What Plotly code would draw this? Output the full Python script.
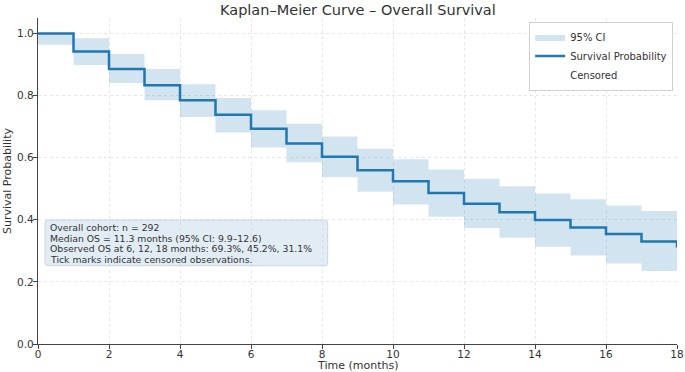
import plotly.graph_objects as go

# ---- data ----
times = [0, 1, 2, 3, 4, 5, 6, 7, 8, 9, 10, 11, 12, 13, 14, 15, 16, 17, 18]
survival = [1.000, 0.942, 0.886, 0.833, 0.785, 0.738, 0.693, 0.646, 0.603, 0.560,
            0.524, 0.486, 0.452, 0.424, 0.399, 0.375, 0.354, 0.330, 0.311]
ci_upper = [1.000, 0.985, 0.934, 0.886, 0.837, 0.792, 0.753, 0.709, 0.668, 0.629,
            0.595, 0.562, 0.532, 0.508, 0.485, 0.466, 0.446, 0.428, 0.428]
ci_lower = [0.964, 0.899, 0.841, 0.785, 0.731, 0.681, 0.633, 0.585, 0.537, 0.490,
            0.449, 0.410, 0.374, 0.342, 0.313, 0.285, 0.259, 0.235, 0.235]
censored_times = [None]
censored_surv = [None]

x_ticks = [0, 2, 4, 6, 8, 10, 12, 14, 16, 18]
y_ticks = [0.0, 0.2, 0.4, 0.6, 0.8, 1.0]

title_text = "Kaplan–Meier Curve – Overall Survival"
x_label = "Time (months)"
y_label = "Survival Probability"
info_lines = [
    "Overall cohort: n = 292",
    "Median OS = 11.3 months (95% CI: 9.9–12.6)",
    "Observed OS at 6, 12, 18 months: 69.3%, 45.2%, 31.1%",
    "Tick marks indicate censored observations.",
]

FONT = "DejaVu Sans, Verdana, sans-serif"
TXT = "#333333"
BLUE = "#1f77b4"

fig = go.Figure()

fig.add_trace(go.Scatter(
    x=times, y=ci_lower, mode="lines", line=dict(width=0, shape="hv"),
    showlegend=False, hoverinfo="skip"))
fig.add_trace(go.Scatter(
    x=times, y=ci_upper, mode="lines", line=dict(width=0, shape="hv"),
    fill="tonexty", fillcolor="rgba(31,119,180,0.2)", name="95% CI"))
fig.add_trace(go.Scatter(
    x=times, y=survival, mode="lines", line=dict(color=BLUE, width=2.5, shape="hv"),
    name="Survival Probability"))
fig.add_trace(go.Scatter(
    x=censored_times, y=censored_surv, mode="markers",
    marker=dict(symbol="line-ns-open", size=8, color="rgba(0,0,0,0)",
                line=dict(color="rgba(0,0,0,0)", width=0)),
    name="Censored", showlegend=True))

# info box (rounded rectangle in data units)
bx0, bx1, by0, by1 = 0.197, 8.16, 0.252, 0.399
rx, ry = 0.085, 0.0097
path = (f"M {bx0+rx},{by0} L {bx1-rx},{by0} Q {bx1},{by0} {bx1},{by0+ry} "
        f"L {bx1},{by1-ry} Q {bx1},{by1} {bx1-rx},{by1} "
        f"L {bx0+rx},{by1} Q {bx0},{by1} {bx0},{by1-ry} "
        f"L {bx0},{by0+ry} Q {bx0},{by0} {bx0+rx},{by0} Z")
fig.add_shape(type="path", path=path, xref="x", yref="y",
              fillcolor="rgba(190,212,230,0.45)", line=dict(color="#c9d6e1", width=1),
              layer="above")

line_y = [0.376, 0.341, 0.306, 0.271]
for txt, yy in zip(info_lines, line_y):
    fig.add_annotation(x=0.29, y=yy, xref="x", yref="y", text=txt, showarrow=False,
                       xanchor="left", yanchor="middle",
                       font=dict(family=FONT, size=9.3, color=TXT))

# title and axis titles
fig.add_annotation(x=0.5, y=1.0536, xref="paper", yref="paper", text=title_text,
                   showarrow=False, xanchor="center", yanchor="top", borderpad=0,
                   font=dict(family=FONT, size=14.5, color=TXT))
fig.add_annotation(x=0.5, y=-0.0645, xref="paper", yref="paper", text=x_label,
                   showarrow=False, xanchor="center", yanchor="middle",
                   font=dict(family=FONT, size=11, color=TXT))
fig.add_annotation(x=-0.0485, y=0.5, xref="paper", yref="paper", text=y_label,
                   showarrow=False, xanchor="center", yanchor="middle", textangle=-90,
                   font=dict(family=FONT, size=11, color=TXT))

fig.update_layout(
    width=685, height=372,
    margin=dict(l=38, r=8, t=17.5, b=28, autoexpand=False),
    paper_bgcolor="white", plot_bgcolor="white",
    font=dict(family=FONT, color=TXT, size=10.5),
    legend=dict(x=0.994, y=0.989, xanchor="right", yanchor="top",
                bgcolor="rgba(255,255,255,0.85)", bordercolor="#d0d0d0", borderwidth=1,
                font=dict(family=FONT, size=10, color=TXT), itemwidth=30,
                tracegroupgap=0, traceorder="normal"),
    showlegend=True,
)

fig.update_xaxes(
    range=[0, 18], tickvals=x_ticks, ticktext=[str(v) for v in x_ticks],
    showline=True, linecolor="#444", linewidth=1.2, mirror=False,
    ticks="outside", ticklen=4, tickcolor="#444", tickwidth=1,
    showgrid=True, gridcolor="#e6e6e6", griddash="dot", gridwidth=1,
    zeroline=False, automargin=False, ticklabelstandoff=-4,
    tickfont=dict(family=FONT, size=10.5, color=TXT),
)
fig.update_yaxes(
    range=[0, 1.05], tickvals=y_ticks, ticktext=[f"{v:.1f}" for v in y_ticks],
    showline=True, linecolor="#444", linewidth=1.2, mirror=False,
    ticks="outside", ticklen=4, tickcolor="#444", tickwidth=1,
    showgrid=True, gridcolor="#e6e6e6", griddash="dot", gridwidth=1,
    zeroline=False, automargin=False, ticklabelstandoff=-3,
    tickfont=dict(family=FONT, size=10.5, color=TXT),
)

fig.write_html("out.html", config={"displayModeBar": False},
               post_script="document.body.style.margin='0';document.body.style.overflow='hidden';")
